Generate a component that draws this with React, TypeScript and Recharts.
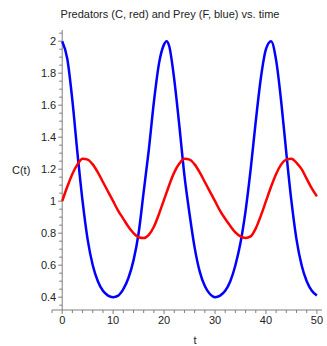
import React from "react";
import { LineChart, Line, XAxis, YAxis, ReferenceLine } from "recharts";

// ---- data ----
const tValues = [
  0, 1, 2, 3, 4, 5, 6, 7, 8, 9, 10, 11, 12, 13, 14, 15, 16, 17, 18, 19, 20, 20.5,
  21, 22, 23, 24, 25, 26, 27, 28, 29, 30, 31, 32, 33, 34, 35, 36, 37, 38, 39, 40,
  41, 42, 43, 44, 45, 46, 47, 48, 49, 50,
];
const preyF = [
  2.0, 1.89, 1.63, 1.3, 1.0, 0.76, 0.6, 0.5, 0.44, 0.41, 0.4, 0.41, 0.45, 0.52, 0.63,
  0.8, 1.06, 1.32, 1.62, 1.86, 1.98, 2.0,
  1.97, 1.76, 1.47, 1.16, 0.92, 0.71, 0.56, 0.47, 0.42, 0.4, 0.41, 0.44, 0.5, 0.6,
  0.74, 0.94, 1.2, 1.5, 1.77, 1.95,
  2.0, 1.88, 1.62, 1.3, 1.0, 0.76, 0.6, 0.5, 0.44, 0.41,
];
const predC = [
  1.0, 1.09, 1.17, 1.23, 1.265, 1.26, 1.23, 1.18, 1.12, 1.06, 1.0, 0.94, 0.89, 0.84,
  0.8, 0.775, 0.77, 0.79, 0.84, 0.92, 1.01, 1.055,
  1.1, 1.18, 1.235, 1.265, 1.26, 1.23, 1.18, 1.12, 1.06, 1.0, 0.94, 0.89, 0.845, 0.805,
  0.78, 0.77, 0.78, 0.83, 0.91, 1.0,
  1.09, 1.17, 1.23, 1.26, 1.265, 1.24, 1.2, 1.14, 1.08, 1.03,
];
const xTicks = [-2, 0, 2, 4, 6, 8, 10, 12, 14, 16, 18, 20, 22, 24, 26, 28, 30, 32, 34, 36, 38, 40, 42, 44, 46, 48, 50];
const xLabelTicks = [0, 10, 20, 30, 40, 50];
const yTicks = [
  0.35, 0.4, 0.45, 0.5, 0.55, 0.6, 0.65, 0.7, 0.75, 0.8, 0.85, 0.9, 0.95, 1.0, 1.05,
  1.1, 1.15, 1.2, 1.25, 1.3, 1.35, 1.4, 1.45, 1.5, 1.55, 1.6, 1.65, 1.7, 1.75, 1.8,
  1.85, 1.9, 1.95, 2.0, 2.05,
];
const yLabelTicks = [0.4, 0.6, 0.8, 1, 1.2, 1.4, 1.6, 1.8, 2];
const titleText = "Predators (C, red) and Prey (F, blue) vs. time";
const xAxisLabel = "t";
const yAxisLabel = "C(t)";

const chartData = tValues.map((t, i) => ({ t, F: preyF[i], C: predC[i] }));

// ---- layout ----
const W = 327;
const H = 346;
const Y_AXIS_W = 1;
const X_AXIS_H = 1;
const MARGIN = { top: 30, right: 5, bottom: 36 - X_AXIS_H, left: 52 - Y_AXIS_W };
const X_DOMAIN: [number, number] = [-2, 51];
const Y_DOMAIN: [number, number] = [0.32, 2.07];
const PLOT_LEFT = MARGIN.left + Y_AXIS_W;
const PLOT_W = W - PLOT_LEFT - MARGIN.right;
const PLOT_BOTTOM = H - MARGIN.bottom - X_AXIS_H;
const AXIS_X = PLOT_LEFT + ((0 - X_DOMAIN[0]) / (X_DOMAIN[1] - X_DOMAIN[0])) * PLOT_W;
const FONT = "'Liberation Sans', Arial, sans-serif";
const AXIS_COLOR = "#7f7f7f";
const TEXT_COLOR = "#222";

const isLabelled = (v: number, list: number[]) => list.some((l) => Math.abs(l - v) < 1e-6);
const fmt = (v: number) => String(Number(v.toFixed(2)));

const renderYTick = (props: any) => {
  const { y, payload } = props;
  const major = isLabelled(payload.value, yLabelTicks);
  return (
    <g key={`y-${payload.value}`}>
      <line x1={AXIS_X - (major ? 4 : 3)} x2={AXIS_X} y1={y} y2={y} stroke={AXIS_COLOR} strokeWidth={1} />
      {major && (
        <text x={AXIS_X - 6} y={y} dy={4} textAnchor="end" fontSize={11} fontFamily={FONT} fill={TEXT_COLOR}>
          {fmt(payload.value)}
        </text>
      )}
    </g>
  );
};

const renderXTick = (props: any) => {
  const { x, payload } = props;
  const major = isLabelled(payload.value, xLabelTicks);
  return (
    <g key={`x-${payload.value}`}>
      <line x1={x} x2={x} y1={PLOT_BOTTOM} y2={PLOT_BOTTOM + (major ? 4 : 3)} stroke={AXIS_COLOR} strokeWidth={1} />
      {major && (
        <text x={x} y={PLOT_BOTTOM + 14} textAnchor="middle" fontSize={11} fontFamily={FONT} fill={TEXT_COLOR}>
          {fmt(payload.value)}
        </text>
      )}
    </g>
  );
};

export default function App() {
  return (
    <div style={{ position: "absolute", left: 0, top: 0, width: W, height: H, background: "#fff" }}>
      <LineChart width={W} height={H} data={chartData} margin={MARGIN}>
        <XAxis
          dataKey="t"
          type="number"
          domain={X_DOMAIN}
          ticks={xTicks}
          interval={0}
          height={X_AXIS_H}
          tickLine={false}
          axisLine={{ stroke: AXIS_COLOR }}
          tick={renderXTick}
          allowDataOverflow
        />
        <YAxis
          type="number"
          domain={Y_DOMAIN}
          ticks={yTicks}
          interval={0}
          width={Y_AXIS_W}
          axisLine={false}
          tickLine={false}
          tick={renderYTick}
          allowDataOverflow
        />
        <ReferenceLine x={0} stroke={AXIS_COLOR} strokeWidth={1} />
        <Line dataKey="F" type="monotone" stroke="#0000ff" strokeWidth={2.5} dot={false} isAnimationActive={false} />
        <Line dataKey="C" type="monotone" stroke="#ff0000" strokeWidth={2.5} dot={false} isAnimationActive={false} />
      </LineChart>
      <div
        style={{
          position: "absolute",
          left: 0,
          top: 8,
          width: 340,
          textAlign: "center",
          fontFamily: FONT,
          fontSize: 11,
          lineHeight: "13px",
          color: TEXT_COLOR,
          whiteSpace: "nowrap",
        }}
      >
        {titleText}
      </div>
      <div
        style={{
          position: "absolute",
          left: 12,
          top: 164,
          fontFamily: FONT,
          fontSize: 11,
          lineHeight: "13px",
          color: TEXT_COLOR,
        }}
      >
        {yAxisLabel}
      </div>
      <div
        style={{
          position: "absolute",
          left: 185,
          top: 334,
          width: 20,
          textAlign: "center",
          fontFamily: FONT,
          fontSize: 11,
          lineHeight: "13px",
          color: TEXT_COLOR,
        }}
      >
        {xAxisLabel}
      </div>
    </div>
  );
}
